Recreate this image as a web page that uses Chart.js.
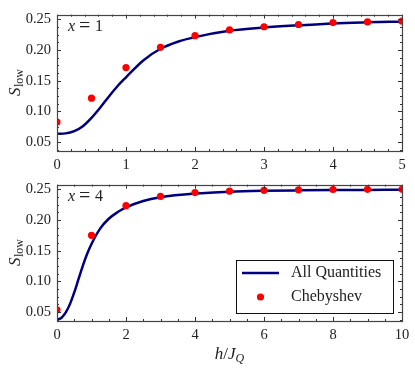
<!DOCTYPE html>
<html>
<head>
<meta charset="utf-8">
<script src="https://cdn.jsdelivr.net/npm/chart.js@4.4.0/dist/chart.umd.min.js"></script>
<style>
  body { margin: 0; background: #fff; }
  #wrap { position: relative; width: 415px; height: 369px; }
  canvas { position: absolute; left: 0; }
</style>
</head>
<body>
<div id="wrap">
  <canvas id="topChart" width="415" height="170" style="top:0"></canvas>
  <canvas id="bottomChart" width="415" height="199" style="top:170px"></canvas>
</div>
<script>
'use strict';

// values (h/J_Q vs S_low)

// x = 1 panel
const topCurveX = [0, 0.125, 0.25, 0.375, 0.5, 0.625, 0.75, 0.875, 1, 1.25, 1.5, 1.75, 2, 2.5, 3, 3.5, 4, 4.5, 5];
const topCurveY = [0.0635, 0.0642, 0.0680, 0.0760, 0.0895, 0.1060, 0.1240, 0.1410, 0.1555, 0.1830, 0.2020, 0.2135, 0.2210, 0.2312, 0.2365, 0.2402, 0.2433, 0.2450, 0.2462];
const topPointX = [0, 0.5, 1, 1.5, 2, 2.5, 3, 3.5, 4, 4.5, 5];
const topPointY = [0.0827, 0.1215, 0.1714, 0.2044, 0.2233, 0.2327, 0.2379, 0.2415, 0.2447, 0.2458, 0.2469];

// x = 4 panel
const bottomCurveX = [0, 0.125, 0.25, 0.375, 0.5, 0.625, 0.75, 0.875, 1, 1.25, 1.5, 1.75, 2, 2.5, 3, 4, 5, 6, 7, 8, 9, 10];
const bottomCurveY = [0.0375, 0.0405, 0.0490, 0.0630, 0.0820, 0.1040, 0.1258, 0.1450, 0.1610, 0.1860, 0.2020, 0.2125, 0.2205, 0.2310, 0.2370, 0.2430, 0.2460, 0.2475, 0.2483, 0.2488, 0.2490, 0.2492];
const bottomPointX = [0, 1, 2, 3, 4, 5, 6, 7, 8, 9, 10];
const bottomPointY = [0.0538, 0.1751, 0.2233, 0.2384, 0.2447, 0.2469, 0.2484, 0.2492, 0.2497, 0.2500, 0.2500];

// tick labels
const yTicks = [0.05, 0.10, 0.15, 0.20, 0.25];
const topXTicks = [0, 1, 2, 3, 4, 5];
const bottomXTicks = [0, 2, 4, 6, 8, 10];

const seriesNames = ['All Quantities', 'Chebyshev'];

const NAVY = '#00007f';
const RED = '#ff0000';
const INK = '#222';
const FONT = "'Liberation Serif', 'Times New Roman', serif";

function toPoints(xs, ys) {
  return xs.map((x, i) => ({ x: x, y: ys[i] }));
}

// frame + inward ticks on all four sides, plus the math-ish labels
const decorPlugin = {
  id: 'decor',
  afterDraw(chart, args, opts) {
    const ctx = chart.ctx;
    const ca = chart.chartArea;
    const xs = chart.scales.x;
    const ys = chart.scales.y;
    ctx.save();
    ctx.strokeStyle = '#333';
    ctx.lineWidth = 1;

    ctx.beginPath();
    // x ticks (top + bottom)
    const nx0 = Math.ceil(xs.min / opts.xMinor - 1e-9);
    const nx1 = Math.floor(xs.max / opts.xMinor + 1e-9);
    for (let k = nx0; k <= nx1; k++) {
      const v = k * opts.xMinor;
      const isMajor = Math.abs(v / opts.xMajor - Math.round(v / opts.xMajor)) < 1e-6;
      const len = isMajor ? 4 : 2;
      const px = Math.round(xs.getPixelForValue(v)) + 0.5;
      ctx.moveTo(px, ca.bottom); ctx.lineTo(px, ca.bottom - len);
      ctx.moveTo(px, ca.top); ctx.lineTo(px, ca.top + len);
    }
    // y ticks (left + right)
    const yMinor = 0.0125;
    const ny0 = Math.ceil(ys.min / yMinor - 1e-9);
    const ny1 = Math.floor(ys.max / yMinor + 1e-9);
    for (let k = ny0; k <= ny1; k++) {
      const v = k * yMinor;
      const isMajor = yTicks.some(t => Math.abs(t - v) < 1e-6);
      const len = isMajor ? 4 : 2;
      const py = Math.round(ys.getPixelForValue(v)) + 0.5;
      ctx.moveTo(ca.left, py); ctx.lineTo(ca.left + len, py);
      ctx.moveTo(ca.right, py); ctx.lineTo(ca.right - len, py);
    }
    ctx.stroke();

    ctx.strokeStyle = '#444';
    ctx.lineWidth = 1.2;
    ctx.strokeRect(Math.round(ca.left) + 0.5, Math.round(ca.top) + 0.5,
      Math.round(ca.width), Math.round(ca.height));

    // "x = 1" tag
    ctx.fillStyle = INK;
    ctx.textBaseline = 'alphabetic';
    ctx.textAlign = 'left';
    const by = ca.top + 16.7;
    ctx.font = 'italic 16px ' + FONT;
    ctx.fillText('x', ca.left + 11, by);
    ctx.font = '20px ' + FONT;
    ctx.fillText('=', ca.left + 22, by + 0.5);
    ctx.font = '16px ' + FONT;
    ctx.fillText(opts.tag, ca.left + 38, by);

    // y title S_low, rotated
    ctx.save();
    ctx.translate(20, (ca.top + ca.bottom) / 2);
    ctx.rotate(-Math.PI / 2);
    ctx.font = 'italic 17px ' + FONT;
    const wS = ctx.measureText('S').width;
    ctx.font = '12px ' + FONT;
    const wLow = ctx.measureText('low').width;
    const start = -(wS + wLow) / 2;
    ctx.font = 'italic 17px ' + FONT;
    ctx.fillText('S', start, 0);
    ctx.font = '12px ' + FONT;
    ctx.fillText('low', start + wS + 0.5, 3);
    ctx.restore();

    if (opts.xTitle) {
      // h/J_Q
      const parts = [
        { t: 'h', f: 'italic 17px ', dy: 0 },
        { t: '/', f: '17px ', dy: 0 },
        { t: 'J', f: 'italic 17px ', dy: 0 },
        { t: 'Q', f: 'italic 12px ', dy: 3 }
      ];
      let total = 0;
      parts.forEach(p => { ctx.font = p.f + FONT; p.w = ctx.measureText(p.t).width; total += p.w; });
      let cx = (ca.left + ca.right) / 2 - total / 2;
      const baseY = 189;
      parts.forEach(p => {
        ctx.font = p.f + FONT;
        ctx.fillText(p.t, cx, baseY + p.dy);
        cx += p.w;
      });
    }

    if (opts.legend) {
      const lx = 236, ly = 90, lw = 157, lh = 53;
      ctx.fillStyle = '#fff';
      ctx.fillRect(lx, ly, lw, lh);
      ctx.strokeStyle = '#111';
      ctx.lineWidth = 1;
      ctx.strokeRect(lx + 0.5, ly + 0.5, lw, lh);

      ctx.strokeStyle = NAVY;
      ctx.lineWidth = 2.5;
      ctx.beginPath();
      ctx.moveTo(lx + 6, ly + 13);
      ctx.lineTo(lx + 43, ly + 13);
      ctx.stroke();

      ctx.fillStyle = RED;
      ctx.beginPath();
      ctx.arc(lx + 24.5, ly + 37, 3.6, 0, Math.PI * 2);
      ctx.fill();

      ctx.fillStyle = INK;
      ctx.font = '16px ' + FONT;
      ctx.textBaseline = 'middle';
      ctx.fillText(seriesNames[0], lx + 55, ly + 13);
      ctx.fillText(seriesNames[1], lx + 55, ly + 37);
    }
    ctx.restore();
  }
};

function makeChart(canvasId, curveX, curveY, pointX, pointY, xMax, xTicks, xMajor, xMinor, xAxisHeight, decor) {
  const ctx = document.getElementById(canvasId);
  const config = {
    type: 'scatter',
    data: {
      datasets: [
        {
          label: seriesNames[1],
          data: toPoints(pointX, pointY),
          pointRadius: 3.6,
          pointHoverRadius: 3.6,
          pointBackgroundColor: RED,
          pointBorderWidth: 0,
          showLine: false,
          clip: 0,
          order: 0
        },
        {
          label: seriesNames[0],
          data: toPoints(curveX, curveY),
          showLine: true,
          borderColor: NAVY,
          borderWidth: 2.5,
          pointRadius: 0,
          cubicInterpolationMode: 'monotone',
          order: 1
        }
      ]
    },
    options: {
      responsive: false,
      animation: false,
      devicePixelRatio: 1,
      layout: { padding: { left: 0, right: 13, top: 10, bottom: 0 } },
      plugins: {
        legend: { display: false },
        tooltip: { enabled: false },
        decor: Object.assign({ xMajor: xMajor, xMinor: xMinor }, decor)
      },
      scales: {
        x: {
          type: 'linear',
          min: 0,
          max: xMax,
          afterBuildTicks: s => { s.ticks = xTicks.map(v => ({ value: v })); },
          afterFit: s => { s.height = xAxisHeight; },
          grid: { display: false, drawTicks: false },
          border: { display: false },
          ticks: {
            color: INK,
            padding: 5,
            maxRotation: 0,
            font: { family: FONT, size: 14.5 },
            callback: v => String(v)
          }
        },
        y: {
          type: 'linear',
          min: 0.0355,
          max: 0.2575,
          afterBuildTicks: s => { s.ticks = yTicks.map(v => ({ value: v })); },
          afterFit: s => { s.width = 57; },
          grid: { display: false, drawTicks: false },
          border: { display: false },
          ticks: {
            color: INK,
            padding: 6,
            font: { family: FONT, size: 14.5 },
            callback: v => v.toFixed(2)
          }
        }
      }
    },
    plugins: [decorPlugin]
  };
  return new Chart(ctx, config);
}

makeChart('topChart', topCurveX, topCurveY, topPointX, topPointY, 5, topXTicks, 1, 0.2, 19,
  { tag: '1', xTitle: false, legend: false });
makeChart('bottomChart', bottomCurveX, bottomCurveY, bottomPointX, bottomPointY, 10, bottomXTicks, 2, 0.5, 48,
  { tag: '4', xTitle: true, legend: true });
</script>
</body>
</html>
